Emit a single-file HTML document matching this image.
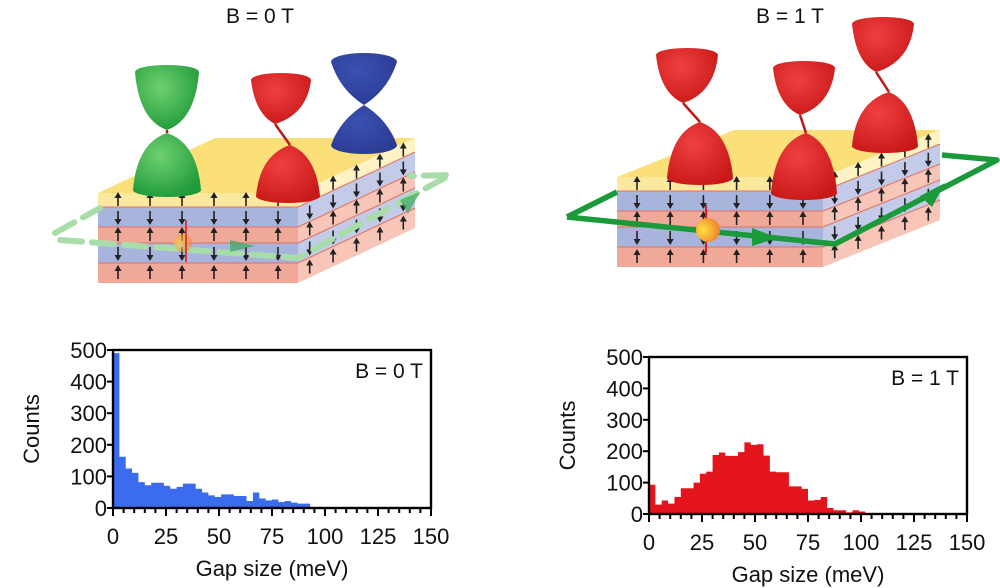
<!DOCTYPE html>
<html><head><meta charset="utf-8"><style>
html,body{margin:0;padding:0;background:#fff;}
svg{display:block;font-family:"Liberation Sans","DejaVu Sans",sans-serif;}
</style></head><body>
<svg id="s" width="1000" height="588" viewBox="0 0 1000 588" xmlns="http://www.w3.org/2000/svg">
<defs>
<radialGradient id="gG" cx="0.4" cy="0.35" r="0.7"><stop offset="0" stop-color="#6fd06f"/><stop offset="1" stop-color="#1f9a3a"/></radialGradient>
<radialGradient id="gR" cx="0.4" cy="0.35" r="0.7"><stop offset="0" stop-color="#f04040"/><stop offset="1" stop-color="#c81818"/></radialGradient>
<radialGradient id="gB" cx="0.4" cy="0.35" r="0.7"><stop offset="0" stop-color="#3b50b0"/><stop offset="1" stop-color="#2b3c95"/></radialGradient>
<radialGradient id="gO" cx="0.3" cy="0.5" r="0.7"><stop offset="0" stop-color="#ffe040"/><stop offset="1" stop-color="#f08030"/></radialGradient>
</defs>
<g id="illus"></g>
<text x="260" y="23" font-size="21" text-anchor="middle" fill="#111">B = 0 T</text>
<text x="790" y="23" font-size="21" text-anchor="middle" fill="#111">B = 1 T</text>
<g id="plots"></g>
</svg>
<script>
const NS="http://www.w3.org/2000/svg";
function el(p,t,a){const e=document.createElementNS(NS,t);for(const k in a)e.setAttribute(k,a[k]);p.appendChild(e);return e;}
const I=document.getElementById('illus'),P=document.getElementById('plots');
function arrow(g,x,y,up,ang){const a=ang||0;const gg=el(g,'g',{transform:`translate(${x},${y}) rotate(${up?a:180+a})`});
el(gg,'line',{x1:0,y1:6,x2:0,y2:-3,stroke:'#222','stroke-width':1.6});el(gg,'path',{d:'M-3.5,-2 L0,-8 L3.5,-2Z',fill:'#222'});}
function block(fx0,fx1,ytop,dx,dy){
 const L=[['#fbe9a0','#fdf3c4',14],['#a9b4dc','#c3cbe8',20],['#f0a898','#f7c6b8',16],['#a9b4dc','#c3cbe8',20],['#f0a898','#f7c6b8',20]];
 const g=el(I,'g',{});
 el(g,'path',{d:`M${fx0},${ytop} L${fx1},${ytop} L${fx1+dx},${ytop+dy} L${fx0+dx},${ytop+dy}Z`,fill:'#fbe07a'});
 let y=ytop;
 L.forEach((l,i)=>{const h=l[2];
  el(g,'rect',{x:fx0,y:y,width:fx1-fx0,height:h,fill:l[0]});
  el(g,'path',{d:`M${fx1},${y} L${fx1+dx},${y+dy} L${fx1+dx},${y+dy+h} L${fx1},${y+h}Z`,fill:l[1]});
  if(i>0){el(g,'line',{x1:fx0,y1:y,x2:fx1,y2:y,stroke:'#e07060','stroke-width':1});
   el(g,'line',{x1:fx1,y1:y,x2:fx1+dx,y2:y+dy,stroke:'#e07060','stroke-width':1});}
  const up=(i%2==0);
  for(let k=0;k<6;k++){const ax=fx0+20+k*((fx1-fx0-40)/5);arrow(g,ax,y+h/2,up);}
  for(let k=0;k<5;k++){const t=(k+0.5)/5;arrow(g,fx1+dx*t,y+dy*t+h/2,up);}
  y+=h;});
}
function cone(cx,ty,tipx,tipy,w,fill,down){
 const hw=w/2;
 if(!down){el(I,'path',{d:`M${cx-hw},${ty} Q${cx-hw+4},${tipy-10} ${tipx},${tipy} Q${cx+hw-4},${tipy-10} ${cx+hw},${ty} A${hw},${7} 0 0 0 ${cx-hw},${ty}Z`,fill:fill});}
 else{el(I,'path',{d:`M${cx-hw},${ty} Q${cx-hw+4},${tipy+10} ${tipx},${tipy} Q${cx+hw-4},${tipy+10} ${cx+hw},${ty} A${hw},${7} 0 0 1 ${cx-hw},${ty}Z`,fill:fill});}
}
function pair(ux,uy,ut,lx,lb,lt,w,fill,tipxU,tipxL){
 cone(ux,uy,tipxU,ut,w,fill,false);
 el(I,'line',{x1:tipxU,y1:ut,x2:tipxL,y2:lt,stroke:'#c01818','stroke-width':2.5});
 cone(lx,lb,tipxL,lt,w+4,fill,true);
}
block(98,298,193,117,-55);
el(I,'path',{d:'M55,233 L100,208 M60,240 L298,258 L450,175 L410,176',fill:'none',stroke:'#a8dca8','stroke-width':6,'stroke-dasharray':'22,10','stroke-linecap':'round'});
el(I,'path',{d:'M230,240 L255,246 L230,252Z',fill:'#3aaa5a',opacity:.7});
el(I,'path',{d:'M400,200 L420,192 L408,214Z',fill:'#3aaa5a',opacity:.7});
el(I,'circle',{cx:183,cy:243,r:9,fill:'url(#gO)',opacity:.6});
el(I,'line',{x1:186,y1:262,x2:186,y2:220,stroke:'#d04040','stroke-width':2});
pair(167,72,130,167,190,133,64,'url(#gG)',167,167);
pair(281,80,124,288,196,145,60,'url(#gR)',275,290);
el(I,'path',{d:'M331,62 Q340,90 364,105 Q388,90 397,62 A33,9 0 0 0 331,62Z',fill:'url(#gB)'});
el(I,'path',{d:'M331,145 Q340,120 364,105 Q388,120 397,145 A33,9 0 0 1 331,145Z',fill:'url(#gB)'});
block(617,823,177,117,-47);
el(I,'path',{d:'M567,217 L617,192 M567,217 L835,244 L997,160 L942,155',fill:'none',stroke:'#1a9a3a','stroke-width':5.5,'stroke-linejoin':'round'});
el(I,'path',{d:'M752,228 L778,238 L752,246Z',fill:'#1a9a3a'});
el(I,'path',{d:'M920,196 L945,183 L932,207Z',fill:'#1a9a3a'});
el(I,'line',{x1:706,y1:253,x2:706,y2:205,stroke:'#d02020','stroke-width':2});
el(I,'circle',{cx:708,cy:230,r:12,fill:'url(#gO)'});
pair(687,55,103,700,178,122,62,'url(#gR)',683,700);
pair(804,68,115,804,193,133,62,'url(#gR)',800,806);
pair(883,24,72,885,146,92,62,'url(#gR)',876,889);

function hist(x0,x1,y0,y5,data,color,label){
 const sx=(x1-x0)/150,sy=(y0-y5)/500;
 const g=el(P,'g',{});
 let d=`M${x0},${y0}`;
 data.forEach(b=>{const xa=x0+b[0]*sx,xb=x0+b[1]*sx,yy=y0-b[2]*sy;d+=` L${xa},${yy} L${xb},${yy}`;});
 d+=` L${x0+data[data.length-1][1]*sx},${y0}Z`;
 el(g,'path',{d:d,fill:color});
 el(g,'rect',{x:x0,y:y5,width:x1-x0,height:y0-y5,fill:'none',stroke:'#000','stroke-width':2.4});
 for(let v=0;v<=500;v+=100){const y=y0-v*sy;el(g,'line',{x1:x0-6,y1:y,x2:x0,y2:y,stroke:'#000','stroke-width':2});
  const t=el(g,'text',{x:x0-6,y:y+8,'font-size':22,'text-anchor':'end',fill:'#111'});t.textContent=v;}
 for(let v=0;v<=150;v+=5){const x=x0+v*sx;const big=v%25==0;el(g,'line',{x1:x,y1:y0,x2:x,y2:y0+(big?8:5),stroke:'#000','stroke-width':2});
  if(big){const t=el(g,'text',{x:x,y:y0+36,'font-size':22,'text-anchor':'middle',fill:'#111'});t.textContent=v;}}
 const t=el(g,'text',{x:x1-8,y:y5+28,'font-size':21,'text-anchor':'end',fill:'#111'});t.textContent=label;
 const xl=el(g,'text',{x:(x0+x1)/2,y:y0+68,'font-size':22,'text-anchor':'middle',fill:'#111'});xl.textContent='Gap size (meV)';
 const yl=el(g,'text',{x:0,y:0,'font-size':22,'text-anchor':'middle',fill:'#111',transform:`translate(${x0-74},${(y0+y5)/2}) rotate(-90)`});yl.textContent='Counts';
}
const A=[[0,3,490],[3,6,162],[6,9,125],[9,12,111],[12,15,82],[15,18,72],[18,24,80],[24,27,70],[27,30,61],[30,33,67],[33,39,77],[39,42,61],[42,45,49],[45,48,40],[48,51,35],[51,57,43],[57,63,38],[63,66,22],[66,69,49],[69,72,30],[72,75,24],[75,78,27],[78,81,19],[81,84,22],[84,87,17],[87,93,14]];
const B=[[0,3,93],[3,6,30],[6,9,43],[9,12,33],[12,15,54],[15,21,82],[21,24,100],[24,27,128],[27,30,135],[30,33,188],[33,36,196],[36,42,185],[42,45,197],[45,48,228],[48,51,220],[51,54,222],[54,57,186],[57,60,135],[60,66,133],[66,72,88],[72,75,80],[75,78,43],[78,81,45],[81,84,54],[84,87,19],[87,93,12],[93,96,5],[96,99,12],[99,102,8],[102,105,3]];
hist(113,431,508,350,A,'#3b6cf0','B = 0 T');
hist(649,967,514,357,B,'#e3141c','B = 1 T');
</script>
</body></html>
